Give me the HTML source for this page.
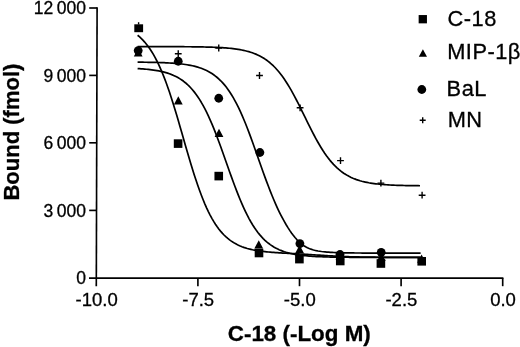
<!DOCTYPE html>
<html lang="en"><head><meta charset="utf-8"><title>C-18 binding</title>
<style>html,body{margin:0;padding:0;background:#fff}body{width:520px;height:347px;overflow:hidden}svg{display:block;filter:blur(0.4px)}text{font-family:"Liberation Sans",Arial,Helvetica,sans-serif;fill:#000;stroke:#000;stroke-width:0.3px}.t{font-size:17.5px}.b{font-size:22.0px;font-weight:bold}.l{font-size:21.8px}.tx{font-size:18.5px}.bx{font-size:22.4px;font-weight:bold}</style></head><body>
<svg width="520" height="347" viewBox="0 0 520 347">
<rect width="520" height="347" fill="#fff"/>
<g stroke="#000" stroke-width="1.65" fill="none" stroke-linecap="butt">
<path d="M97.1,7.3 L96.3,286.2"/>
<path d="M89.0,278.1 H503.4"/>
<path d="M89.2,8.00 H97"/>
<path d="M89.2,75.40 H97"/>
<path d="M89.2,142.80 H97"/>
<path d="M89.2,210.40 H97"/>
<path d="M197.90,278.1 V286.2"/>
<path d="M299.50,278.1 V286.2"/>
<path d="M401.10,278.1 V286.2"/>
<path d="M502.70,278.1 V286.2"/>
</g>
<text class="t" x="85.9" y="14.25" text-anchor="end" word-spacing="-1.3">12 000</text>
<text class="t" x="85.9" y="81.65" text-anchor="end" word-spacing="-1.3">9 000</text>
<text class="t" x="85.9" y="149.05" text-anchor="end" word-spacing="-1.3">6 000</text>
<text class="t" x="85.9" y="216.65" text-anchor="end" word-spacing="-1.3">3 000</text>
<text class="t" x="85.9" y="284.45" text-anchor="end" word-spacing="-1.3">0</text>
<text class="tx" x="96.60" y="305.9" text-anchor="middle">-10.0</text>
<text class="tx" x="198.20" y="305.9" text-anchor="middle">-7.5</text>
<text class="tx" x="299.80" y="305.9" text-anchor="middle">-5.0</text>
<text class="tx" x="401.40" y="305.9" text-anchor="middle">-2.5</text>
<text class="tx" x="503.00" y="305.9" text-anchor="middle">0.0</text>
<text class="bx" x="299.3" y="340.6" text-anchor="middle">C-18 (-Log M)</text>
<text class="b" transform="translate(18.5,132.1) rotate(-90)" text-anchor="middle">Bound (fmol)</text>
<g stroke="#000" stroke-width="1.7" fill="none" stroke-linejoin="round">
<path d="M137.60,35.23 L139.37,36.72 L141.14,38.34 L142.91,40.12 L144.67,42.06 L146.44,44.18 L148.21,46.49 L149.98,49.00 L151.75,51.72 L153.52,54.67 L155.29,57.84 L157.06,61.25 L158.82,64.91 L160.59,68.82 L162.36,72.98 L164.13,77.39 L165.90,82.06 L167.67,86.96 L169.44,92.09 L171.21,97.44 L172.97,102.99 L174.74,108.71 L176.51,114.59 L178.28,120.59 L180.05,126.68 L181.82,132.83 L183.59,139.00 L185.36,145.16 L187.12,151.28 L188.89,157.31 L190.66,163.24 L192.43,169.03 L194.20,174.65 L195.97,180.08 L197.74,185.30 L199.51,190.30 L201.27,195.05 L203.04,199.56 L204.81,203.83 L206.58,207.83 L208.35,211.59 L210.12,215.10 L211.89,218.37 L213.66,221.40 L215.43,224.21 L217.19,226.80 L218.96,229.19 L220.73,231.38 L222.50,233.40 L224.27,235.24 L226.04,236.93 L227.81,238.46 L229.57,239.87 L231.34,241.14 L233.11,242.30 L234.88,243.36 L236.65,244.32 L238.42,245.18 L240.19,245.97 L241.96,246.69 L243.72,247.33 L245.49,247.92 L247.26,248.45 L249.03,248.93 L250.80,249.36 L252.57,249.76 L254.34,250.11 L256.11,250.44 L257.88,250.73 L259.64,251.00 L261.41,251.24 L263.18,251.46 L264.95,251.66 L266.72,251.85 L268.49,252.02 L270.26,252.18 L272.02,252.32 L273.79,252.46 L275.56,252.58 L277.33,252.70 L279.10,252.82 L280.87,252.93 L282.64,253.03 L284.41,253.13 L286.17,253.23 L287.94,253.33 L289.71,253.42 L291.48,253.52 L293.25,253.61 L295.02,253.71 L296.79,253.81 L298.56,253.90 L300.32,254.00 L302.09,254.11 L303.86,254.21 L305.63,254.31 L307.40,254.42 L309.17,254.53 L310.94,254.64 L312.71,254.75 L314.48,254.87 L316.24,254.98 L318.01,255.09 L319.78,255.21 L321.55,255.32 L323.32,255.43 L325.09,255.54 L326.86,255.65 L328.62,255.75 L330.39,255.86 L332.16,255.96 L333.93,256.05 L335.70,256.14 L337.47,256.23 L339.24,256.32 L341.01,256.40 L342.77,256.47 L344.54,256.54 L346.31,256.61 L348.08,256.67 L349.85,256.73 L351.62,256.79 L353.39,256.84 L355.16,256.88 L356.92,256.93 L358.69,256.97 L360.46,257.01 L362.23,257.04 L364.00,257.07 L365.77,257.10 L367.54,257.13 L369.31,257.15 L371.07,257.18 L372.84,257.20 L374.61,257.21 L376.38,257.23 L378.15,257.25 L379.92,257.26 L381.69,257.27 L383.46,257.29 L385.23,257.30 L386.99,257.31 L388.76,257.31 L390.53,257.32 L392.30,257.33 L394.07,257.34 L395.84,257.34 L397.61,257.35 L399.38,257.35 L401.14,257.36 L402.91,257.36 L404.68,257.37 L406.45,257.37 L408.22,257.37 L409.99,257.37 L411.76,257.38 L413.52,257.38 L415.29,257.38 L417.06,257.38 L418.83,257.38 L420.60,257.39"/>
<path d="M137.60,68.59 L139.37,68.70 L141.14,68.81 L142.91,68.94 L144.67,69.08 L146.44,69.24 L148.21,69.42 L149.98,69.61 L151.75,69.82 L153.52,70.06 L155.29,70.33 L157.06,70.62 L158.82,70.94 L160.59,71.30 L162.36,71.70 L164.13,72.14 L165.90,72.63 L167.67,73.17 L169.44,73.76 L171.21,74.42 L172.97,75.15 L174.74,75.95 L176.51,76.83 L178.28,77.79 L180.05,78.86 L181.82,80.03 L183.59,81.31 L185.36,82.71 L187.12,84.25 L188.89,85.92 L190.66,87.74 L192.43,89.72 L194.20,91.87 L195.97,94.19 L197.74,96.70 L199.51,99.40 L201.27,102.30 L203.04,105.40 L204.81,108.70 L206.58,112.20 L208.35,115.91 L210.12,119.82 L211.89,123.91 L213.66,128.19 L215.43,132.63 L217.19,137.23 L218.96,141.95 L220.73,146.79 L222.50,151.71 L224.27,156.69 L226.04,161.70 L227.81,166.72 L229.57,171.71 L231.34,176.65 L233.11,181.52 L234.88,186.28 L236.65,190.92 L238.42,195.42 L240.19,199.75 L241.96,203.91 L243.72,207.88 L245.49,211.65 L247.26,215.22 L249.03,218.59 L250.80,221.76 L252.57,224.72 L254.34,227.48 L256.11,230.06 L257.88,232.44 L259.64,234.65 L261.41,236.68 L263.18,238.56 L264.95,240.28 L266.72,241.86 L268.49,243.30 L270.26,244.62 L272.02,245.83 L273.79,246.92 L275.56,247.92 L277.33,248.83 L279.10,249.66 L280.87,250.41 L282.64,251.09 L284.41,251.70 L286.17,252.26 L287.94,252.76 L289.71,253.22 L291.48,253.63 L293.25,254.00 L295.02,254.34 L296.79,254.64 L298.56,254.91 L300.32,255.16 L302.09,255.38 L303.86,255.58 L305.63,255.76 L307.40,255.93 L309.17,256.07 L310.94,256.21 L312.71,256.33 L314.48,256.43 L316.24,256.53 L318.01,256.62 L319.78,256.69 L321.55,256.77 L323.32,256.83 L325.09,256.89 L326.86,256.94 L328.62,256.98 L330.39,257.03 L332.16,257.06 L333.93,257.10 L335.70,257.13 L337.47,257.15 L339.24,257.18 L341.01,257.20 L342.77,257.22 L344.54,257.24 L346.31,257.26 L348.08,257.27 L349.85,257.28 L351.62,257.29 L353.39,257.31 L355.16,257.31 L356.92,257.32 L358.69,257.33 L360.46,257.34 L362.23,257.34 L364.00,257.35 L365.77,257.35 L367.54,257.36 L369.31,257.36 L371.07,257.37 L372.84,257.37 L374.61,257.37 L376.38,257.38 L378.15,257.38 L379.92,257.38 L381.69,257.38 L383.46,257.38 L385.23,257.39 L386.99,257.39 L388.76,257.39 L390.53,257.39 L392.30,257.39 L394.07,257.39 L395.84,257.39 L397.61,257.39 L399.38,257.39 L401.14,257.39 L402.91,257.40 L404.68,257.40 L406.45,257.40 L408.22,257.40 L409.99,257.40 L411.76,257.40 L413.52,257.40 L415.29,257.40 L417.06,257.40 L418.83,257.40 L420.60,257.40"/>
<path d="M137.60,62.15 L139.37,62.16 L141.14,62.18 L142.91,62.20 L144.67,62.23 L146.44,62.25 L148.21,62.28 L149.98,62.31 L151.75,62.34 L153.52,62.38 L155.29,62.42 L157.06,62.47 L158.82,62.52 L160.59,62.58 L162.36,62.64 L164.13,62.72 L165.90,62.79 L167.67,62.88 L169.44,62.98 L171.21,63.09 L172.97,63.21 L174.74,63.34 L176.51,63.49 L178.28,63.65 L180.05,63.83 L181.82,64.03 L183.59,64.26 L185.36,64.50 L187.12,64.78 L188.89,65.08 L190.66,65.42 L192.43,65.79 L194.20,66.20 L195.97,66.65 L197.74,67.16 L199.51,67.71 L201.27,68.32 L203.04,69.00 L204.81,69.75 L206.58,70.57 L208.35,71.47 L210.12,72.46 L211.89,73.56 L213.66,74.75 L215.43,76.06 L217.19,77.50 L218.96,79.06 L220.73,80.77 L222.50,82.63 L224.27,84.64 L226.04,86.83 L227.81,89.19 L229.57,91.74 L231.34,94.48 L233.11,97.42 L234.88,100.55 L236.65,103.89 L238.42,107.43 L240.19,111.18 L241.96,115.12 L243.72,119.24 L245.49,123.55 L247.26,128.02 L249.03,132.64 L250.80,137.38 L252.57,142.23 L254.34,147.17 L256.11,152.17 L257.88,157.19 L259.64,162.23 L261.41,167.24 L263.18,172.20 L264.95,177.09 L266.72,181.89 L268.49,186.57 L270.26,191.13 L272.02,195.53 L273.79,199.78 L275.56,203.86 L277.33,207.78 L279.10,211.52 L280.87,215.09 L282.64,218.48 L284.41,221.71 L286.17,224.77 L287.94,227.66 L289.71,230.39 L291.48,232.94 L293.25,235.32 L295.02,237.52 L296.79,239.54 L298.56,241.36 L300.32,242.99 L302.09,244.43 L303.86,245.69 L305.63,246.78 L307.40,247.71 L309.17,248.51 L310.94,249.18 L312.71,249.75 L314.48,250.23 L316.24,250.64 L318.01,250.99 L319.78,251.28 L321.55,251.53 L323.32,251.74 L325.09,251.92 L326.86,252.08 L328.62,252.21 L330.39,252.33 L332.16,252.43 L333.93,252.52 L335.70,252.59 L337.47,252.66 L339.24,252.71 L341.01,252.76 L342.77,252.81 L344.54,252.84 L346.31,252.88 L348.08,252.90 L349.85,252.93 L351.62,252.95 L353.39,252.97 L355.16,252.99 L356.92,253.00 L358.69,253.01 L360.46,253.02 L362.23,253.03 L364.00,253.04 L365.77,253.05 L367.54,253.06 L369.31,253.06 L371.07,253.07 L372.84,253.07 L374.61,253.07 L376.38,253.08 L378.15,253.08 L379.92,253.08 L381.69,253.09 L383.46,253.09 L385.23,253.09 L386.99,253.09 L388.76,253.09 L390.53,253.09 L392.30,253.09 L394.07,253.09 L395.84,253.09 L397.61,253.10 L399.38,253.10 L401.14,253.10 L402.91,253.10 L404.68,253.10 L406.45,253.10 L408.22,253.10 L409.99,253.10 L411.76,253.10 L413.52,253.10 L415.29,253.10 L417.06,253.10 L418.83,253.10 L420.60,253.10"/>
<path d="M137.60,46.61 L139.36,46.61 L141.13,46.61 L142.89,46.61 L144.66,46.61 L146.42,46.61 L148.19,46.61 L149.95,46.62 L151.72,46.62 L153.48,46.62 L155.25,46.62 L157.01,46.62 L158.78,46.63 L160.54,46.63 L162.31,46.63 L164.07,46.64 L165.84,46.64 L167.60,46.64 L169.37,46.65 L171.13,46.66 L172.90,46.66 L174.66,46.67 L176.43,46.68 L178.19,46.68 L179.96,46.69 L181.72,46.70 L183.49,46.71 L185.25,46.73 L187.02,46.74 L188.78,46.76 L190.55,46.77 L192.31,46.79 L194.08,46.81 L195.84,46.84 L197.61,46.86 L199.38,46.89 L201.14,46.92 L202.90,46.96 L204.67,46.99 L206.44,47.04 L208.20,47.09 L209.96,47.14 L211.73,47.20 L213.50,47.26 L215.26,47.33 L217.02,47.41 L218.79,47.50 L220.56,47.60 L222.32,47.71 L224.08,47.83 L225.85,47.96 L227.62,48.11 L229.38,48.27 L231.14,48.45 L232.91,48.65 L234.67,48.87 L236.44,49.11 L238.20,49.38 L239.97,49.67 L241.73,50.00 L243.50,50.36 L245.26,50.76 L247.03,51.20 L248.79,51.68 L250.56,52.22 L252.32,52.80 L254.09,53.45 L255.85,54.15 L257.62,54.93 L259.38,55.78 L261.15,56.71 L262.91,57.72 L264.68,58.83 L266.44,60.04 L268.21,61.35 L269.98,62.77 L271.74,64.31 L273.50,65.98 L275.27,67.77 L277.03,69.70 L278.80,71.76 L280.56,73.97 L282.33,76.32 L284.09,78.81 L285.86,81.45 L287.62,84.23 L289.39,87.14 L291.15,90.18 L292.92,93.34 L294.68,96.61 L296.45,99.98 L298.21,103.43 L299.98,106.94 L301.75,110.51 L303.51,114.10 L305.27,117.71 L307.04,121.31 L308.80,124.88 L310.57,128.41 L312.33,131.87 L314.10,135.26 L315.87,138.55 L317.63,141.73 L319.39,144.79 L321.16,147.73 L322.92,150.53 L324.69,153.20 L326.45,155.72 L328.22,158.10 L329.99,160.33 L331.75,162.42 L333.51,164.38 L335.28,166.19 L337.04,167.88 L338.81,169.45 L340.57,170.89 L342.34,172.22 L344.10,173.45 L345.87,174.57 L347.63,175.61 L349.40,176.55 L351.16,177.42 L352.93,178.20 L354.69,178.92 L356.46,179.58 L358.23,180.18 L359.99,180.72 L361.75,181.21 L363.52,181.66 L365.28,182.06 L367.05,182.43 L368.81,182.77 L370.58,183.07 L372.34,183.34 L374.11,183.59 L375.88,183.81 L377.64,184.02 L379.40,184.20 L381.17,184.36 L382.93,184.51 L384.70,184.65 L386.46,184.77 L388.23,184.88 L390.00,184.98 L391.76,185.07 L393.52,185.15 L395.29,185.23 L397.05,185.29 L398.82,185.35 L400.59,185.41 L402.35,185.45 L404.12,185.50 L405.88,185.54 L407.64,185.57 L409.41,185.60 L411.17,185.63 L412.94,185.66 L414.70,185.68 L416.47,185.70 L418.24,185.72 L420.00,185.74"/>
</g>
<g fill="#000">
<rect x="134.3" y="24.3" width="8.8" height="7.9"/>
<rect x="173.80" y="139.30" width="8.60" height="8.60"/>
<rect x="214.45" y="171.80" width="8.60" height="8.60"/>
<rect x="254.70" y="248.70" width="8.60" height="8.60"/>
<rect x="295.10" y="254.80" width="8.60" height="8.60"/>
<rect x="335.95" y="256.70" width="8.60" height="8.60"/>
<rect x="376.60" y="259.20" width="8.60" height="8.60"/>
<rect x="417.40" y="257.00" width="8.60" height="8.60"/>
<path d="M138.20,48.20 L142.60,56.40 L133.80,56.40 Z"/>
<path d="M178.30,96.30 L182.70,104.50 L173.90,104.50 Z"/>
<path d="M219.00,128.80 L223.40,137.00 L214.60,137.00 Z"/>
<path d="M258.75,240.20 L263.15,248.40 L254.35,248.40 Z"/>
<path d="M299.60,245.10 L304.00,253.30 L295.20,253.30 Z"/>
<path d="M340.00,251.90 L344.40,260.10 L335.60,260.10 Z"/>
<path d="M381.30,252.90 L385.70,261.10 L376.90,261.10 Z"/>
<path d="M421.60,254.50 L426.00,262.70 L417.20,262.70 Z"/>
<circle cx="138.20" cy="50.60" r="4.40"/>
<circle cx="178.25" cy="61.25" r="4.40"/>
<circle cx="218.75" cy="98.25" r="4.40"/>
<circle cx="259.90" cy="152.50" r="4.40"/>
<circle cx="299.90" cy="243.60" r="4.40"/>
<circle cx="340.00" cy="254.50" r="4.40"/>
<circle cx="381.20" cy="252.30" r="4.40"/>
</g>
<g stroke="#000" stroke-width="1.4" fill="none">
<path d="M174.85,53.75 H181.65 M178.25,50.35 V57.15"/>
<path d="M215.35,48.00 H222.15 M218.75,44.60 V51.40"/>
<path d="M256.10,75.50 H262.90 M259.50,72.10 V78.90"/>
<path d="M296.70,107.80 H303.50 M300.10,104.40 V111.20"/>
<path d="M337.10,160.60 H343.90 M340.50,157.20 V164.00"/>
<path d="M377.50,183.10 H384.30 M380.90,179.70 V186.50"/>
<path d="M418.70,195.20 H425.50 M422.10,191.80 V198.60"/>
<path d="M138.6,22.2 V24.5"/>
<path d="M419.70,120.20 H425.70 M422.70,117.20 V123.20"/>
</g>
<g fill="#000">
<rect x="418.65" y="15.05" width="8.30" height="8.30"/>
<path d="M422.90,49.30 L427.00,56.70 L418.80,56.70 Z"/>
<circle cx="421.80" cy="89.50" r="4.40"/>
</g>
<text class="l" transform="translate(447.60,25.70) scale(1.0,1)" letter-spacing="0.5">C-18</text>
<text class="l" transform="translate(447.20,59.40) scale(1.0,1)" letter-spacing="0.5">MIP-1β</text>
<text class="l" transform="translate(446.60,95.50) scale(1.0,1)" letter-spacing="0.5">BaL</text>
<text class="l" transform="translate(447.70,127.30) scale(1.0,1)" letter-spacing="0.5">MN</text>
</svg></body></html>
